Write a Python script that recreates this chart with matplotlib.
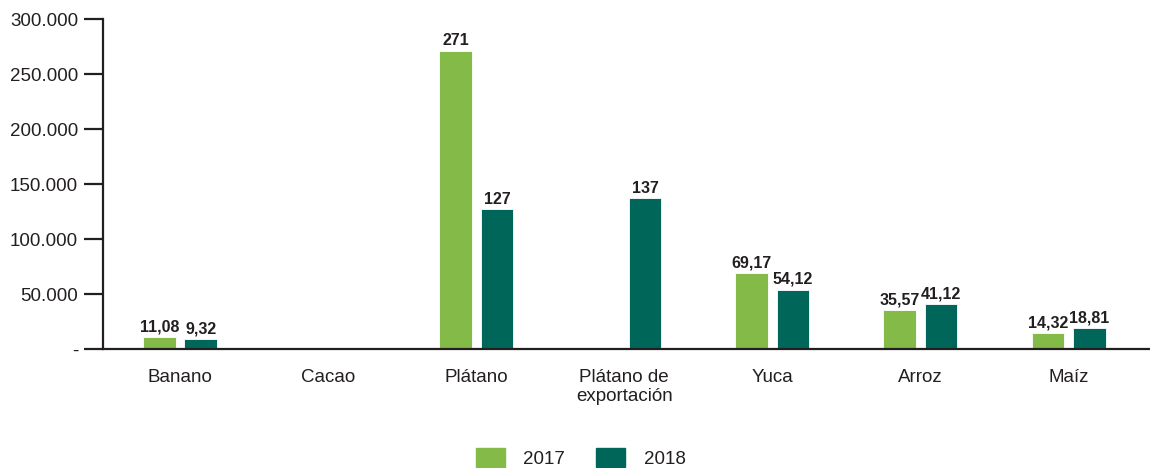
import numpy as np
import matplotlib
matplotlib.use('Agg')
import matplotlib.pyplot as plt
from matplotlib.patches import Patch

plt.rcParams['font.family'] = ['Liberation Sans Narrow', 'Liberation Sans', 'DejaVu Sans']

cultivos = ['Banano', 'Cacao', 'Plátano', 'Plátano de\nexportación', 'Yuca', 'Arroz', 'Maíz']
v2017 = [11080, 600, 271000, 0, 69170, 35570, 14320]
v2018 = [9320, 500, 127000, 137000, 54120, 41120, 18810]
lab2017 = ['11,08', '', '271', '', '69,17', '35,57', '14,32']
lab2018 = ['9,32', '', '127', '137', '54,12', '41,12', '18,81']
yticks = [0, 50000, 100000, 150000, 200000, 250000, 300000]
ylabels = ['-', '50.000', '100.000', '150.000', '200.000', '250.000', '300.000']

c17 = '#84bb48'
c18 = '#00665a'

fig = plt.figure(figsize=(11.5, 4.68), dpi=100)
ax = fig.add_axes([0.0896, 0.254, 0.9104, 0.705])

x = np.arange(len(cultivos))
w = 0.22
off = 0.14
b1 = ax.bar(x - off, v2017, w, color=c17, edgecolor='white', linewidth=0.6)
b2 = ax.bar(x + off, v2018, w, color=c18, edgecolor='white', linewidth=0.6)

for bars, labs in [(b1, lab2017), (b2, lab2018)]:
    for r, t in zip(bars, labs):
        if t:
            ax.annotate(t, (r.get_x() + r.get_width() / 2, r.get_height()),
                        xytext=(0, 2), textcoords='offset points',
                        ha='center', va='bottom', fontsize=11.5,
                        fontweight='bold', color='#231f20')

ax.set_xlim(-0.52, 6.55)
ax.set_ylim(0, 300000)
ax.set_yticks(yticks)
ax.set_yticklabels(ylabels)
ax.set_xticks(x)
ax.set_xticklabels(cultivos)
ax.tick_params(axis='y', length=14, width=1.6, color='#231f20',
               labelsize=13.5, labelcolor='#231f20', pad=4)
ax.tick_params(axis='x', length=0, labelsize=13.5, labelcolor='#231f20', pad=14)

for s in ['top', 'right']:
    ax.spines[s].set_visible(False)
for s in ['left', 'bottom']:
    ax.spines[s].set_linewidth(1.6)
    ax.spines[s].set_color('#231f20')

handles = [Patch(color=c17, label='2017'), Patch(color=c18, label='2018')]
fig.legend(handles=handles, loc='lower center', bbox_to_anchor=(0.505, -0.035),
           ncol=2, frameon=False, fontsize=13.5, handlelength=1.55,
           handleheight=1.2, columnspacing=1.65, handletextpad=1.0,
           labelcolor='#231f20')

fig.savefig('out.png', dpi=100)
